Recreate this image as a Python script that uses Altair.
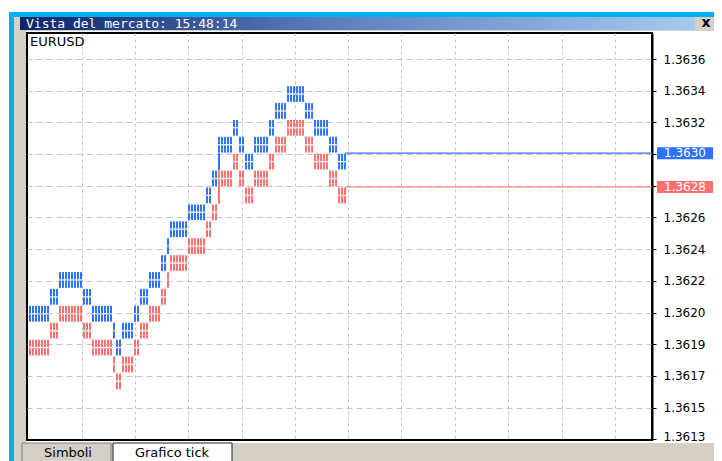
import altair as alt
import pandas as pd

# ---------------- data ----------------
WINDOW_TITLE = "Vista del mercato: 15:48:14"
SYMBOL = "EURUSD"
TAB_NAMES = ["Simboli", "Grafico tick"]

# tick index at which each price block starts (both series share them)
BLOCK_START = [1, 8, 11, 19, 22, 29, 30, 32, 36, 38, 41, 45, 47, 48, 54,
               60, 62, 64, 69, 71, 73, 76, 81, 83, 87, 93, 96, 101, 104]
LAST_TICK = 106

# top price of each block (blue series, upper)
BLUE_TOP = [1.3621, 1.3622, 1.3623, 1.3622, 1.3621, 1.3620, 1.3619, 1.3620,
            1.3621, 1.3622, 1.3623, 1.3624, 1.3625, 1.3626, 1.3627, 1.3628,
            1.3629, 1.3631, 1.3632, 1.3631, 1.3630, 1.3631, 1.3632, 1.3633,
            1.3634, 1.3633, 1.3632, 1.3631, 1.3630]
# top price of each block (red series, lower)
RED_TOP = [1.3619, 1.3620, 1.3621, 1.3620, 1.3619, 1.3618, 1.3617, 1.3618,
           1.3619, 1.3620, 1.3621, 1.3622, 1.3623, 1.3624, 1.3625, 1.3626,
           1.3627, 1.3629, 1.3630, 1.3629, 1.3628, 1.3629, 1.3630, 1.3631,
           1.3632, 1.3631, 1.3630, 1.3629, 1.3628]

LAST_PRICES = {"blue": 1.3630, "red": 1.3628}
LAST_LABELS = {"blue": "1.3630", "red": "1.3628"}

GRID_PRICES = [1.363557, 1.363370, 1.363182, 1.362995, 1.362807, 1.362620,
               1.362432, 1.362244, 1.362057, 1.361869, 1.361682, 1.361494,
               1.361307]
TICK_LABELS = ["1.3636", "1.3634", "1.3632", "1.3630", "1.3628", "1.3626",
               "1.3624", "1.3622", "1.3620", "1.3619", "1.3617", "1.3615",
               "1.3613"]
VGRID_TICKS = [18.2, 36.0, 53.8, 71.5, 89.3, 107.0, 124.8, 142.7, 160.3,
               178.2, 196.0]
X_DOMAIN = [0, 208.3]
Y_DOMAIN = [1.361303, 1.363711]

HALF_STEP = 0.00005
ROW_GAP = 0.0000035

BLUE = "#2f72ff"
RED = "#ff7070"

W, H = 625, 407

# ---------------- build tables ----------------
rows = []
for series, tops in (("blue", BLUE_TOP), ("red", RED_TOP)):
    ends = BLOCK_START[1:] + [LAST_TICK + 1]
    prev = None
    for s, e, top in zip(BLOCK_START, ends, tops):
        for t in range(s, e):
            for half in (0, 1):
                rows.append({"series": series, "t": t,
                             "hi": top - half * HALF_STEP - ROW_GAP,
                             "lo": top - (half + 1) * HALF_STEP + ROW_GAP})
        bottom = top - 2 * HALF_STEP
        if prev is not None and prev < bottom - 1e-7:
            rows.append({"series": series, "t": s, "hi": bottom, "lo": prev})
        prev = top
bars = pd.DataFrame(rows)

flat = pd.DataFrame([
    {"series": k, "t": tt, "price": v}
    for k, v in LAST_PRICES.items() for tt in (LAST_TICK, X_DOMAIN[1])
])
tags = pd.DataFrame([{"series": k, "price": v, "label": LAST_LABELS[k]}
                     for k, v in LAST_PRICES.items()])

labels_js = "[" + ",".join(f"'{l}'" for l in TICK_LABELS) + "]"
keys_js = "[" + ",".join(f"'{v:.6f}'" for v in GRID_PRICES) + "]"
label_expr = f"{labels_js}[indexof({keys_js}, format(datum.value, '.6f'))]"
bottom_test = f"datum.value < {GRID_PRICES[-1] + 0.00005}"

xscale = alt.Scale(domain=X_DOMAIN, nice=False, zero=False)
yscale = alt.Scale(domain=Y_DOMAIN, nice=False, zero=False)
cscale = alt.Scale(domain=["blue", "red"], range=[BLUE, RED])

xaxis = alt.Axis(values=VGRID_TICKS, grid=True, gridColor="#c4c4c4",
                 gridDash=[3, 3], gridWidth=1, labels=False, ticks=False,
                 domain=False, title=None)
yaxis = alt.Axis(orient="right", values=GRID_PRICES, labelExpr=label_expr,
                 grid=True, gridColor="#c4c4c4", gridDash=[6, 4], gridWidth=1,
                 gridOpacity={"condition": {"test": bottom_test, "value": 0},
                              "value": 1},
                 labelOffset={"condition": {"test": bottom_test, "value": -2.5},
                              "value": 0},
                 domain=True, domainColor="#000", domainWidth=2,
                 ticks=True, tickColor="#000", tickSize=4, tickWidth=1,
                 labelFont="DejaVu Sans", labelFontSize=12, labelColor="#000",
                 labelPadding=7, title=None)

dummy = alt.Data(values=[{}])


def box(x, x2, y, y2, **kw):
    return alt.Chart(dummy).mark_rect(**kw).encode(
        x=alt.value(x), x2=alt.value(x2), y=alt.value(y), y2=alt.value(y2))


def label(txt, x, y, **kw):
    return alt.Chart(dummy).mark_text(text=txt, **kw).encode(
        x=alt.value(x), y=alt.value(y))


GRAY = "#d4d0c8"
CYAN = "#05aef0"
gradient = alt.LinearGradient(
    gradient="linear",
    stops=[alt.GradientStop(color="#0a246a", offset=0),
           alt.GradientStop(color="#5a7cbc", offset=0.45),
           alt.GradientStop(color="#a6caf0", offset=1)],
    x1=0, x2=1, y1=0, y2=0)

# plot origin is at page (27, 33)
chrome = [
    box(-18, 690, -21, -16, fill=CYAN),          # top cyan band
    box(-18, -13, -21, 428, fill=CYAN),          # left cyan strip
    box(-13, 690, -16, -2, fill=GRAY),           # top gray row
    box(-13, -1, -16, 428, fill=GRAY),           # left gray strip
    box(-13, 690, 410, 428, fill=GRAY),          # bottom tab strip
    box(-7, 668, -16, -3, fill=gradient),        # title bar
    box(-5, 84, 410, 429, fill=GRAY, stroke="#808080", strokeWidth=1),
    box(86, 205, 410, 429, fill="white", stroke="#202020", strokeWidth=1),
]

texts = [
    label(WINDOW_TITLE, -1, -9.5, font="DejaVu Sans Mono", fontSize=13,
          color="white", align="left", baseline="middle"),
    label("x", 679, -10, font="DejaVu Sans", fontSize=14, fontWeight="bold",
          color="#000", align="center", baseline="middle"),
    label(SYMBOL, 3, 9, font="DejaVu Sans", fontSize=13, color="#000",
          align="left", baseline="middle"),
    label(TAB_NAMES[0], 41, 420, font="DejaVu Sans", fontSize=13,
          color="#000", align="center", baseline="middle"),
    label(TAB_NAMES[1], 145, 420, font="DejaVu Sans", fontSize=13,
          color="#000", align="center", baseline="middle"),
]

X = alt.X("t:Q", scale=xscale, axis=xaxis)

bar_layer = alt.Chart(bars).mark_rule(strokeWidth=2).encode(
    x=X,
    y=alt.Y("lo:Q", scale=yscale, axis=yaxis),
    y2="hi:Q",
    color=alt.Color("series:N", scale=cscale, legend=None),
)

line_layer = alt.Chart(flat).mark_line(strokeWidth=1.2).encode(
    x=X,
    y=alt.Y("price:Q", scale=yscale, axis=yaxis),
    color=alt.Color("series:N", scale=cscale, legend=None),
    detail="series:N",
)

tag_rect = alt.Chart(tags).mark_rect(yOffset=-6, y2Offset=6).encode(
    x=alt.value(630), x2=alt.value(686),
    y=alt.Y("price:Q", scale=yscale, axis=yaxis),
    y2="price:Q",
    color=alt.Color("series:N", scale=cscale, legend=None),
)
tag_text = alt.Chart(tags).mark_text(
    font="DejaVu Sans", fontSize=12, color="white", align="center",
    baseline="middle").encode(
    x=alt.value(658),
    y=alt.Y("price:Q", scale=yscale, axis=yaxis),
    text="label:N",
)

chart = alt.layer(
    bar_layer, line_layer, tag_rect, tag_text, *chrome, *texts
).properties(
    width=W, height=H,
    padding={"left": 19, "top": 25, "right": 62, "bottom": 21},
    autosize=alt.AutoSizeParams(type="none"),
    background="white",
).configure_view(fill="white", stroke="#000", strokeWidth=2)

chart.save("out.html", embed_options={"renderer": "svg", "actions": False})
